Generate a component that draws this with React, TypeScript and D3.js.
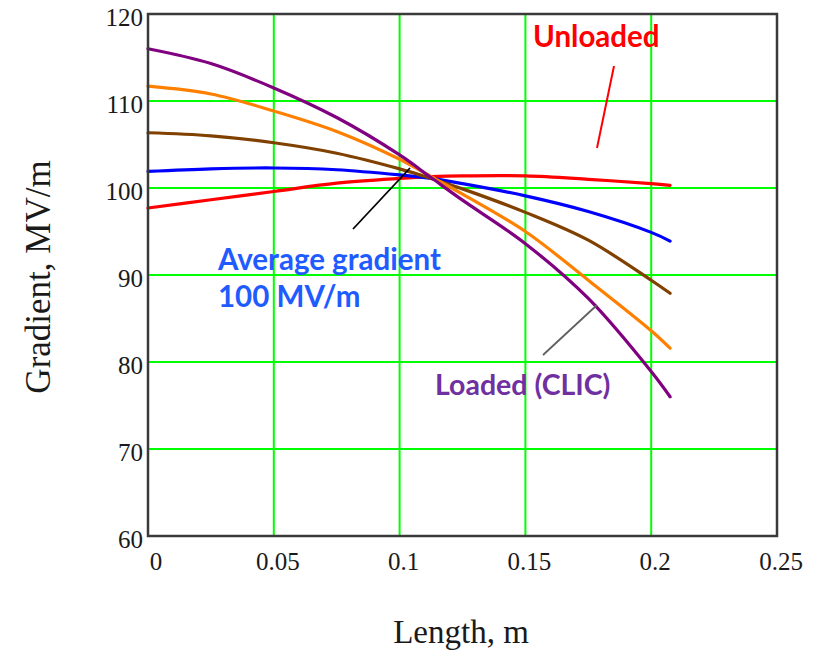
import React from 'react';
import * as d3 from 'd3';

// lengths along the structure (m)
const lengths = [0, 0.025, 0.05, 0.075, 0.1, 0.1125, 0.125, 0.15, 0.175, 0.2, 0.2075];

// gradient profiles (MV/m)
const unloaded = [97.7, 98.65, 99.6, 100.55, 101.1, 101.3, 101.4, 101.4, 101.0, 100.5, 100.3];
const profileBlue = [101.9, 102.2, 102.3, 102.1, 101.5, 101.1, 100.5, 99.1, 97.3, 94.9, 93.9];
const profileBrown = [106.35, 106.0, 105.2, 104.0, 102.2, 101.1, 99.9, 97.2, 94.0, 89.4, 87.9];
const profileOrange = [111.7, 110.8, 108.85, 106.5, 103.3, 101.3, 99.3, 95.0, 89.4, 83.6, 81.6];
const loadedClic = [116.0, 114.3, 111.5, 108.1, 103.8, 101.2, 98.6, 93.6, 87.3, 78.9, 76.0];

const xTicks = [0, 0.05, 0.1, 0.15, 0.2, 0.25];
const yTicks = [60, 70, 80, 90, 100, 110, 120];

const series = [
  { name: 'unloaded', values: unloaded, color: '#ff0000' },
  { name: 'blue', values: profileBlue, color: '#0000ff' },
  { name: 'brown', values: profileBrown, color: '#804000' },
  { name: 'orange', values: profileOrange, color: '#ff8000' },
  { name: 'loaded', values: loadedClic, color: '#800080' },
];

const W = 821;
const H = 652;
const plot = { left: 148, right: 777, top: 14, bottom: 536 };

export default function App() {
  const x = d3.scaleLinear().domain([0, 0.25]).range([plot.left, plot.right]);
  const y = d3.scaleLinear().domain([60, 120]).range([plot.bottom, plot.top]);

  const line = d3.line<number>()
    .x((_, i) => x(lengths[i]))
    .y(d => y(d))
    .curve(d3.curveCatmullRom.alpha(0.5));

  const serif = '"Liberation Serif", "Times New Roman", serif';
  const sans = 'Lato, "Noto Sans", sans-serif';

  return (
    <div style={{ position: 'absolute', left: 0, top: 0 }}>
      <svg width={W} height={H} style={{ display: 'block', background: '#fff' }}>
        {/* grid */}
        {xTicks.filter(t => t > 0 && t < 0.25).map(t => (
          <line key={'gx' + t} x1={x(t)} x2={x(t)} y1={plot.top} y2={plot.bottom}
            stroke="#00ff00" strokeWidth={2} />
        ))}
        {yTicks.filter(t => t > 60 && t < 120).map(t => (
          <line key={'gy' + t} x1={plot.left} x2={plot.right} y1={y(t)} y2={y(t)}
            stroke="#00ff00" strokeWidth={2} />
        ))}

        {/* data */}
        {series.map(s => (
          <path key={s.name} d={line(s.values) || ''} fill="none" stroke={s.color}
            strokeWidth={3.2} strokeLinejoin="round" strokeLinecap="round" />
        ))}

        {/* frame */}
        <rect x={plot.left} y={plot.top} width={plot.right - plot.left} height={plot.bottom - plot.top}
          fill="none" stroke="#3a3a3a" strokeWidth={2.5} />

        {/* tick labels */}
        {yTicks.map(t => (
          <text key={'ty' + t} x={plot.left - 5} y={y(t) + 12} textAnchor="end"
            fontFamily={serif} fontSize={25} fill="#1a1a1a">{t}</text>
        ))}
        {xTicks.map(t => (
          <text key={'tx' + t} x={x(t) + (t === 0 ? 8 : 4)} y={570} textAnchor="middle"
            fontFamily={serif} fontSize={25} fill="#1a1a1a">{String(t)}</text>
        ))}

        {/* axis titles */}
        <text x={461} y={643} textAnchor="middle" fontFamily={serif} fontSize={33} fill="#1a1a1a">Length, m</text>
        <text transform={`translate(50,${(plot.top + plot.bottom) / 2 + 2}) rotate(-90)`} textAnchor="middle"
          fontFamily={serif} fontSize={35} fill="#1a1a1a">Gradient, MV/m</text>

        {/* annotations */}
        <text x={533} y={47} fontFamily={sans} fontWeight={700} fontSize={29.5} fill="#ff0000">Unloaded</text>
        <line x1={614} y1={66} x2={597} y2={148} stroke="#ff0000" strokeWidth={2} />

        <text x={218} y={270} fontFamily={sans} fontWeight={700} fontSize={29.5} fill="#1f5bff">Average gradient</text>
        <text x={218} y={307} fontFamily={sans} fontWeight={700} fontSize={29.5} fill="#1f5bff">100 MV/m</text>
        <line x1={353} y1={229} x2={410} y2={168} stroke="#000" strokeWidth={1.8} />

        <text x={435} y={395} fontFamily={sans} fontWeight={700} fontSize={28.5} fill="#7030a0">Loaded (CLIC)</text>
        <line x1={543} y1={355} x2={597} y2={305} stroke="#606060" strokeWidth={1.8} />
      </svg>
    </div>
  );
}
